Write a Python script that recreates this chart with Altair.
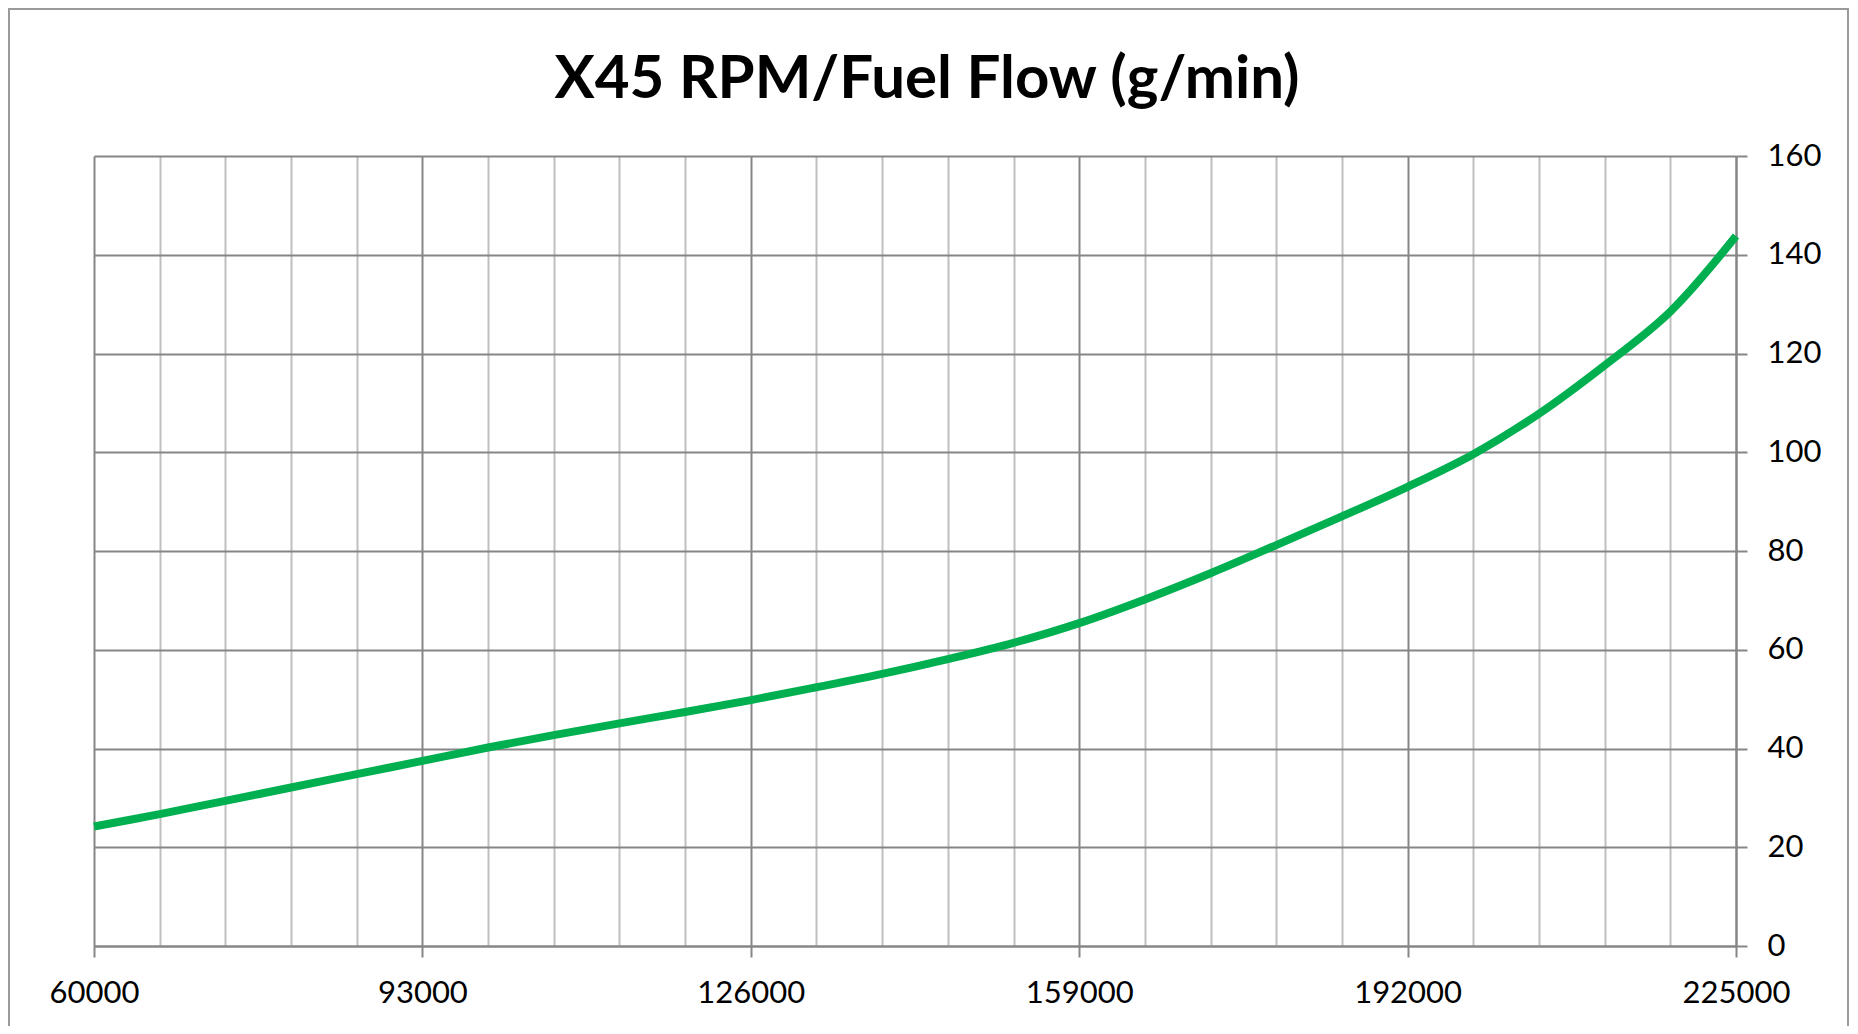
import altair as alt
import pandas as pd

# RPM values (x) and fuel flow g/min (y)
rpm = [60000, 66600, 73200, 79800, 86400, 93000, 99600, 106200, 112800, 119400,
       126000, 132600, 139200, 145800, 152400, 159000, 165600, 172200, 178800,
       185400, 192000, 198600, 205200, 211800, 218400, 225000]
flow = [24.2, 26.7, 29.4, 32.1, 34.8, 37.5, 40.2, 42.7, 45.1, 47.4,
        49.8, 52.4, 55.1, 58.1, 61.4, 65.4, 70.2, 75.5, 81.2,
        87.0, 93.0, 99.6, 107.8, 117.6, 128.5, 143.8]

x_ticks = [60000, 66600, 73200, 79800, 86400, 93000, 99600, 106200, 112800, 119400,
           126000, 132600, 139200, 145800, 152400, 159000, 165600, 172200, 178800,
           185400, 192000, 198600, 205200, 211800, 218400, 225000]
y_ticks = [0, 20, 40, 60, 80, 100, 120, 140, 160]

title_text = "X45 RPM/Fuel Flow (g/min)"

df = pd.DataFrame({"rpm": rpm, "flow": flow})

MAJOR = "#868686"
MINOR = "#bfbfbf"
major_test = "(datum.value - 60000) % 33000 === 0"

W, H = 1642, 790

line = alt.Chart(df).mark_line(
    color="#00b050", strokeWidth=8, interpolate="catmull-rom"
).encode(
    x=alt.X("rpm:Q",
            scale=alt.Scale(domain=[60000, 225000], nice=False, zero=False),
            axis=alt.Axis(
                values=x_ticks, title=None, format="d",
                labelExpr=f"{major_test} ? datum.label : ''",
                grid=True, gridWidth=2,
                gridColor=alt.condition(major_test, alt.value(MAJOR), alt.value(MINOR)),
                ticks=True, tickSize=11, tickWidth=2, tickColor=MAJOR,
                tickOpacity=alt.condition(major_test, alt.value(1), alt.value(0)),
                domain=True, domainColor=MAJOR, domainWidth=2,
                labelFont="Lato", labelFontSize=31, labelColor="#000000",
                labelPadding=36, labelBaseline="middle",
                labelFlush=False, labelOverlap=False, labelBound=False,
            )),
    y=alt.Y("flow:Q",
            scale=alt.Scale(domain=[0, 160], nice=False),
            axis=alt.Axis(
                values=y_ticks, orient="right", title=None,
                grid=True, gridColor=MAJOR, gridWidth=2,
                ticks=True, tickSize=11, tickWidth=2, tickColor=MAJOR,
                domain=True, domainColor=MAJOR, domainWidth=2,
                labelFont="Lato", labelFontSize=31, labelColor="#000000",
                labelPadding=20, labelAlign="left",
                labelOverlap=False, labelBound=False,
            )),
)

frame = alt.Chart(alt.Data(values=[{}])).mark_rect(
    filled=False, stroke="#9a9a9a", strokeWidth=2
).encode(
    x=alt.value(-85), x2=alt.value(1754),
    y=alt.value(-147), y2=alt.value(H + 300),
)

chart = alt.layer(frame, line).properties(
    width=W, height=H,
    title=alt.Title(title_text, font="Lato", fontSize=60, fontWeight="bold",
                    color="#000000", anchor="middle", dx=12, offset=-150,
                    baseline="alphabetic"),
    autosize=alt.AutoSizeParams(type="none"),
    padding={"left": 86, "top": 148, "right": 113, "bottom": 80},
    background="#ffffff",
).configure_view(stroke=None)

chart.save("out.html", embed_options={"renderer": "svg", "actions": False})
